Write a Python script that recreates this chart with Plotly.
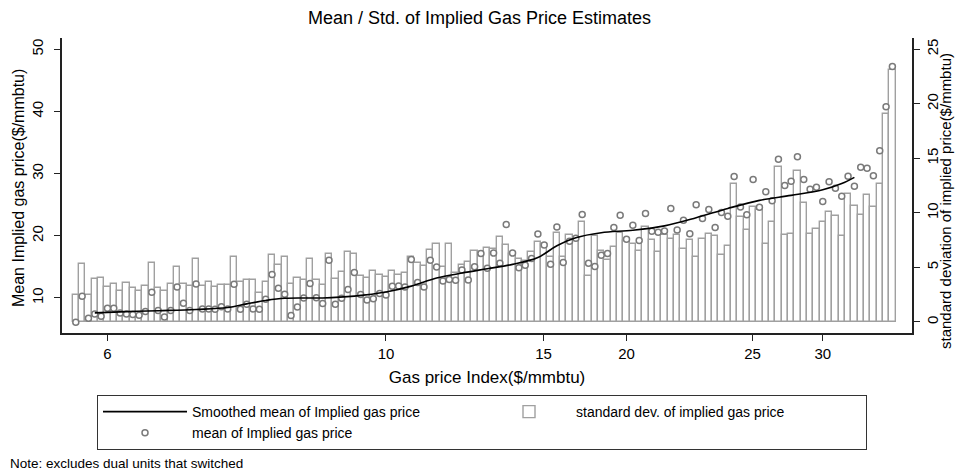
import plotly.graph_objects as go

# ---------------- data ----------------
bin_index = list(range(1, 131))

std_dev = [
    2.51, 5.35, 2.51, 3.98, 4.07, 3.21, 3.49, 2.84, 3.58, 3.09,
    2.84, 3.30, 5.44, 3.09, 2.84, 3.52, 5.02, 3.52, 3.33, 5.81,
    3.33, 3.67, 3.21, 3.43, 3.43, 5.99, 3.70, 3.88, 3.88, 2.66,
    3.64, 6.18, 5.23, 5.99, 3.46, 4.07, 3.88, 5.78, 3.88, 3.43,
    6.27, 3.94, 4.62, 6.39, 6.27, 4.25, 4.07, 4.71, 4.34, 4.16,
    4.71, 4.34, 4.53, 5.93, 5.44, 5.17, 6.64, 7.19, 5.08, 7.19,
    4.53, 5.26, 5.54, 6.48, 6.45, 6.82, 6.73, 7.75, 7.08, 6.20,
    5.80, 5.60, 6.45, 7.36, 7.19, 5.92, 8.20, 5.92, 8.01, 7.45,
    9.15, 4.17, 7.90, 6.50, 5.66, 6.88, 8.13, 7.40, 7.13, 6.50,
    8.75, 7.49, 6.46, 7.98, 7.60, 7.99, 6.71, 7.56, 5.96, 7.65,
    8.10, 7.89, 6.16, 7.00, 12.62, 9.63, 8.41, 10.52, 10.27, 7.19,
    9.20, 14.19, 7.98, 8.10, 13.88, 10.95, 8.10, 8.56, 9.20, 10.12,
    9.69, 7.89, 11.74, 10.64, 9.82, 11.68, 10.58, 12.66, 19.05, 23.09,
]

mean_price = [
    6.08, 10.27, 6.73, 7.42, 7.05, 8.34, 8.34, 7.58, 7.42, 7.32,
    7.21, 7.80, 10.91, 7.96, 6.94, 7.96, 11.77, 9.14, 7.96, 12.25,
    8.23, 8.23, 8.18, 8.60, 8.23, 12.20, 8.18, 8.98, 8.23, 8.18,
    9.79, 13.76, 11.56, 10.59, 7.16, 8.55, 10.00, 12.31, 10.05, 9.09,
    16.07, 8.98, 9.95, 11.34, 14.08, 10.54, 9.68, 9.89, 10.70, 10.48,
    11.88, 11.93, 11.77, 16.17, 12.47, 11.77, 16.07, 14.99, 12.74, 12.95,
    12.84, 14.51, 12.90, 15.00, 17.14, 14.78, 17.22, 15.60, 21.81, 17.22,
    14.84, 15.27, 16.34, 20.28, 18.50, 15.42, 21.40, 15.70, 19.13, 19.61,
    23.42, 15.59, 15.05, 16.85, 17.14, 21.33, 23.32, 19.45, 21.70, 19.26,
    23.58, 20.74, 20.58, 20.76, 24.40, 20.95, 22.51, 20.33, 24.98, 22.78,
    24.22, 21.33, 23.74, 23.15, 29.54, 24.65, 23.37, 29.06, 24.60, 27.07,
    25.62, 32.33, 28.09, 28.79, 32.71, 29.06, 27.50, 27.82, 25.51, 28.68,
    27.66, 26.37, 29.59, 27.98, 31.04, 30.88, 29.65, 33.67, 40.76, 47.25,
]

smooth_bins = [4, 9, 14, 20, 25, 28, 31, 34, 40, 45, 50, 54, 58, 62, 66,
               70, 74, 77, 80, 84, 89, 94, 99, 104, 109, 114, 119, 122, 124]
smooth_mean = [7.6, 7.8, 7.95, 8.15, 8.45, 9.05, 9.6, 9.95, 10.0, 10.3,
               10.95, 11.9, 13.2, 14.0, 14.7, 15.4, 16.5, 18.4, 19.7, 20.5,
               20.9, 21.6, 22.9, 24.4, 25.7, 26.5, 27.4, 28.4, 29.4]

xtick_pos = [6.0, 50.0, 74.9, 88.0, 107.9, 119.0]
xtick_labels = ["6", "10", "15", "20", "25", "30"]
mean_ticks = [10, 20, 30, 40, 50]
std_ticks = [0, 5, 10, 15, 20, 25]

# ---------------- figure ----------------
FONT = "Liberation Sans, Arial, Helvetica, sans-serif"
AXC = "#222222"
W, H = 959, 471
ML, MR, MT, MB = 62, 47, 38, 138
PW, PH = W - ML - MR, H - MT - MB


def px_x(px):
    return (px - ML) / PW


def px_y(py):
    return (H - MB - py) / PH


fig = go.Figure()

fig.add_trace(go.Bar(
    x=bin_index, y=std_dev, yaxis="y", width=1.0,
    name="standard dev. of implied gas price",
    marker=dict(color="rgba(255,255,255,0)",
                line=dict(color="#a0a0a0", width=1.4)),
    legendrank=2,
))

fig.add_trace(go.Scatter(
    x=bin_index, y=mean_price, yaxis="y2", mode="markers",
    name="mean of Implied gas price",
    marker=dict(symbol="circle", size=6, color="white",
                line=dict(color="#7a7a7a", width=1.5)),
    legendrank=3,
))

fig.add_trace(go.Scatter(
    x=smooth_bins, y=smooth_mean, yaxis="y2", mode="lines",
    name="Smoothed mean of Implied gas price",
    line=dict(color="black", width=1.6, shape="spline", smoothing=1.0),
    legendrank=1,
))

fig.update_layout(
    width=W, height=H,
    margin=dict(l=ML, r=MR, t=MT, b=MB),
    paper_bgcolor="white", plot_bgcolor="white",
    font=dict(family=FONT, size=15, color="black"),
    title=dict(text="Mean / Std. of Implied Gas Price Estimates",
               x=0.5, xanchor="center", y=1 - 18 / H, yanchor="middle",
               font=dict(size=18, family=FONT, color="black")),
    barmode="overlay", bargap=0,
    showlegend=True,
    xaxis=dict(
        range=[-1.18, 133.1], tickmode="array",
        tickvals=xtick_pos, ticktext=xtick_labels,
        ticks="outside", ticklen=6, tickcolor=AXC, tickwidth=1.2,
        showline=True, linecolor=AXC, linewidth=1.5,
        showgrid=False, zeroline=False,
        tickfont=dict(size=15),
        title=dict(text="Gas price Index($/mmbtu)", font=dict(size=17), standoff=10),
    ),
    yaxis=dict(
        side="right", range=[-1.01, 26.03], tickmode="array",
        tickvals=std_ticks, ticktext=[str(t) for t in std_ticks],
        tickangle=-90, ticklabelstandoff=0,
        ticks="outside", ticklen=6, tickcolor=AXC, tickwidth=1.2,
        showline=True, linecolor=AXC, linewidth=1.5,
        showgrid=False, zeroline=False,
        tickfont=dict(size=15),
    ),
    yaxis2=dict(
        side="left", overlaying="y", range=[4.36, 51.82], tickmode="array",
        tickvals=mean_ticks, ticktext=[str(t) for t in mean_ticks],
        tickangle=-90, ticklabelstandoff=5,
        ticks="outside", ticklen=6, tickcolor=AXC, tickwidth=1.2,
        showline=True, linecolor=AXC, linewidth=1.5,
        showgrid=False, zeroline=False,
        tickfont=dict(size=15),
    ),
    legend=dict(
        orientation="h", x=px_x(97), xanchor="left", y=px_y(395), yanchor="top",
        bordercolor="#333333", borderwidth=1, bgcolor="white",
        entrywidth=285, entrywidthmode="pixels",
        font=dict(size=14, family=FONT), itemwidth=84,
        traceorder="normal",
    ),
    annotations=[
        dict(text="Mean Implied gas price($/mmbtu)",
             xref="paper", yref="paper", x=px_x(18), y=px_y(188),
             xanchor="center", yanchor="middle", textangle=-90,
             showarrow=False, font=dict(size=16, family=FONT, color="black")),
        dict(text="standard deviation of implied price($/mmbtu)",
             xref="paper", yref="paper", x=px_x(946), y=px_y(201),
             xanchor="center", yanchor="middle", textangle=-90,
             showarrow=False, font=dict(size=15, family=FONT, color="black")),
        dict(text="Note: excludes dual units that switched",
             xref="paper", yref="paper", x=px_x(8), y=px_y(463),
             xanchor="left", yanchor="middle", showarrow=False,
             font=dict(size=13.5, family=FONT, color="black")),
    ],
)

fig.write_html("out.html",
               config={"displayModeBar": False},
               post_script="document.body.style.margin='0';document.body.style.padding='0';")
